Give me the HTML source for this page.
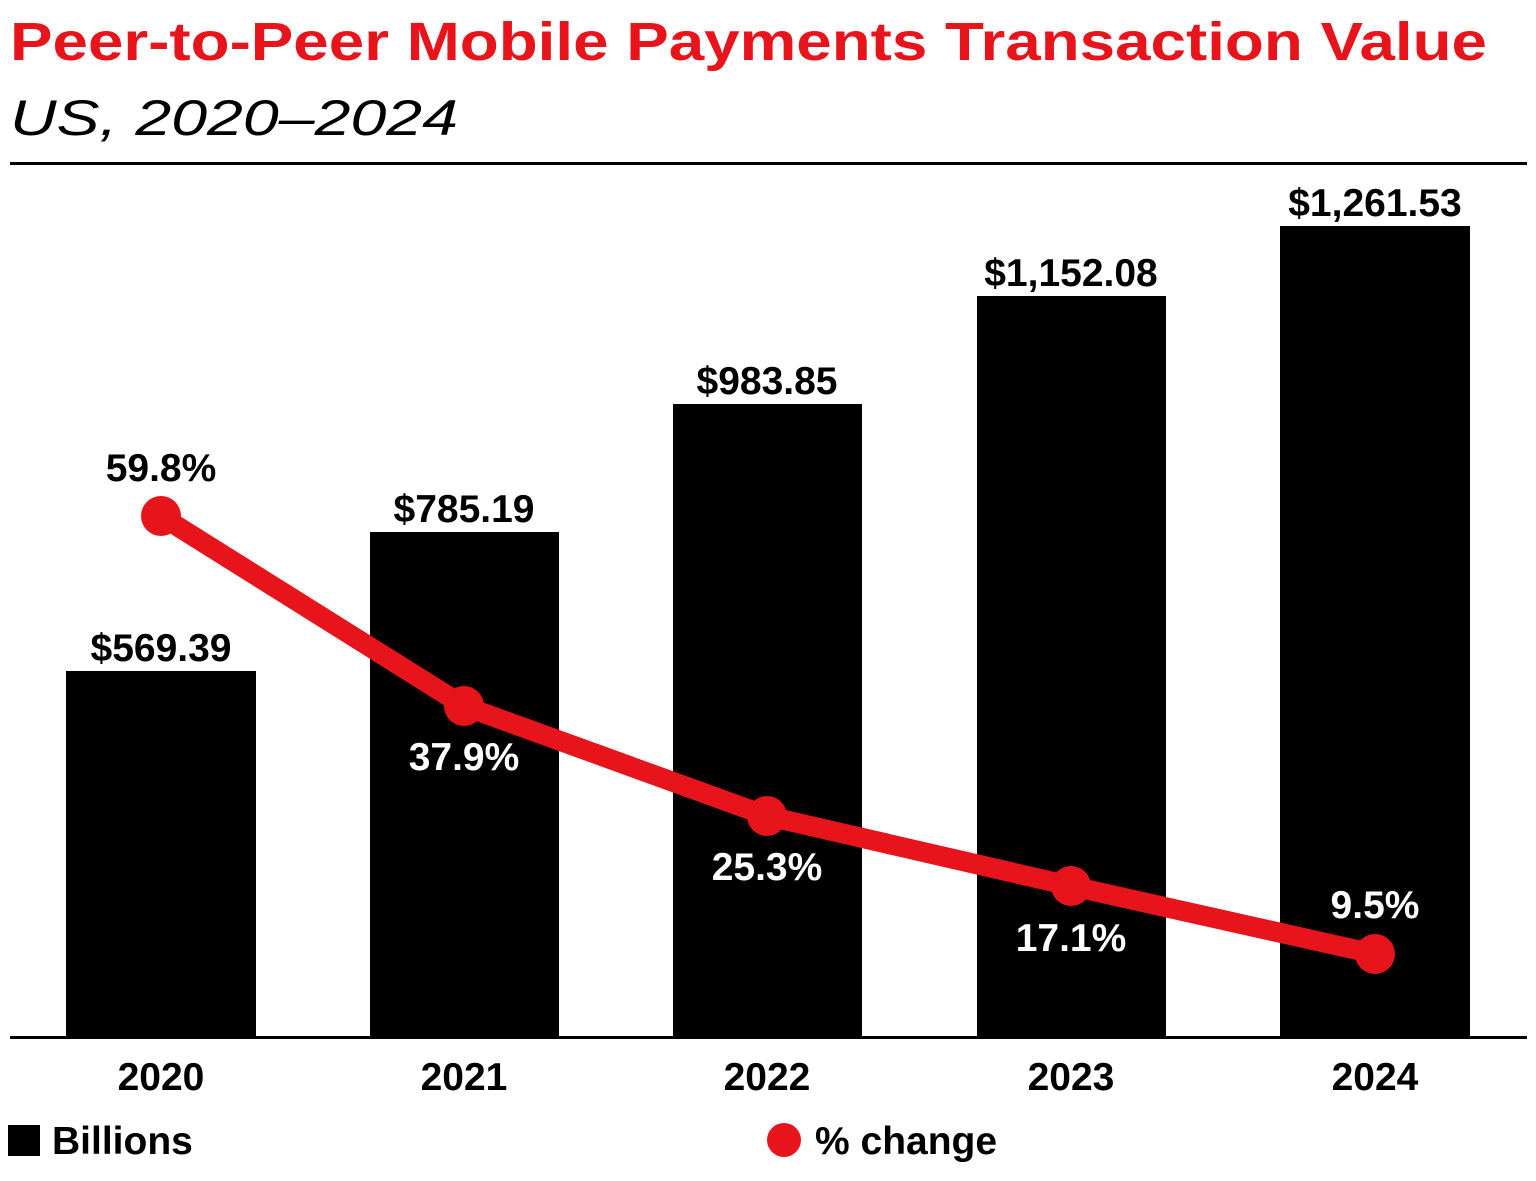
<!DOCTYPE html>
<html><head><meta charset="utf-8"><style>
html,body{margin:0;padding:0;background:#fff;}
svg{display:block;}
text{font-family:"Liberation Sans",sans-serif;}
</style></head><body>
<svg width="1536" height="1181" viewBox="0 0 1536 1181" xmlns="http://www.w3.org/2000/svg">
<text x="10" y="60" font-size="54" font-weight="bold" fill="#e8141c" textLength="1477" lengthAdjust="spacingAndGlyphs">Peer-to-Peer Mobile Payments Transaction Value</text>
<text x="10" y="135" font-size="50" font-style="italic" fill="#000" textLength="448" lengthAdjust="spacingAndGlyphs">US, 2020–2024</text>
<rect x="10" y="162" width="1517" height="3" fill="#000"/>
<g fill="#000">
<rect x="66" y="671" width="190" height="366"/>
<rect x="370" y="532" width="189" height="505"/>
<rect x="673" y="404" width="189" height="633"/>
<rect x="977" y="296" width="189" height="741"/>
<rect x="1280" y="226" width="190" height="811"/>
</g>
<rect x="10" y="1036" width="1517" height="3" fill="#000"/>
<g font-size="39" font-weight="bold" text-anchor="middle" fill="#000">
<text x="161" y="661">$569.39</text>
<text x="464" y="522">$785.19</text>
<text x="767" y="394">$983.85</text>
<text x="1071" y="286">$1,152.08</text>
<text x="1375" y="216">$1,261.53</text>
<text x="161" y="1090">2020</text>
<text x="464" y="1090">2021</text>
<text x="767" y="1090">2022</text>
<text x="1071" y="1090">2023</text>
<text x="1375" y="1090">2024</text>
</g>
<polyline points="161,516 464,706 767,816 1071,886 1375,954" fill="none" stroke="#e8141c" stroke-width="20" stroke-linejoin="round"/>
<g fill="#e8141c">
<circle cx="161" cy="516" r="20"/>
<circle cx="464" cy="706" r="20"/>
<circle cx="767" cy="816" r="20"/>
<circle cx="1071" cy="886" r="20"/>
<circle cx="1375" cy="954" r="20"/>
</g>
<g font-size="39" font-weight="bold" text-anchor="middle">
<text x="161" y="481" fill="#000">59.8%</text>
<text x="464" y="770" fill="#fff">37.9%</text>
<text x="767" y="880" fill="#fff">25.3%</text>
<text x="1071" y="951" fill="#fff">17.1%</text>
<text x="1375" y="918" fill="#fff">9.5%</text>
</g>
<rect x="8" y="1125" width="32" height="31" fill="#000"/>
<text x="52" y="1154" font-size="39" font-weight="bold" fill="#000">Billions</text>
<circle cx="784" cy="1140" r="17" fill="#e8141c"/>
<text x="815" y="1154" font-size="39" font-weight="bold" fill="#000">% change</text>
</svg>
</body></html>
